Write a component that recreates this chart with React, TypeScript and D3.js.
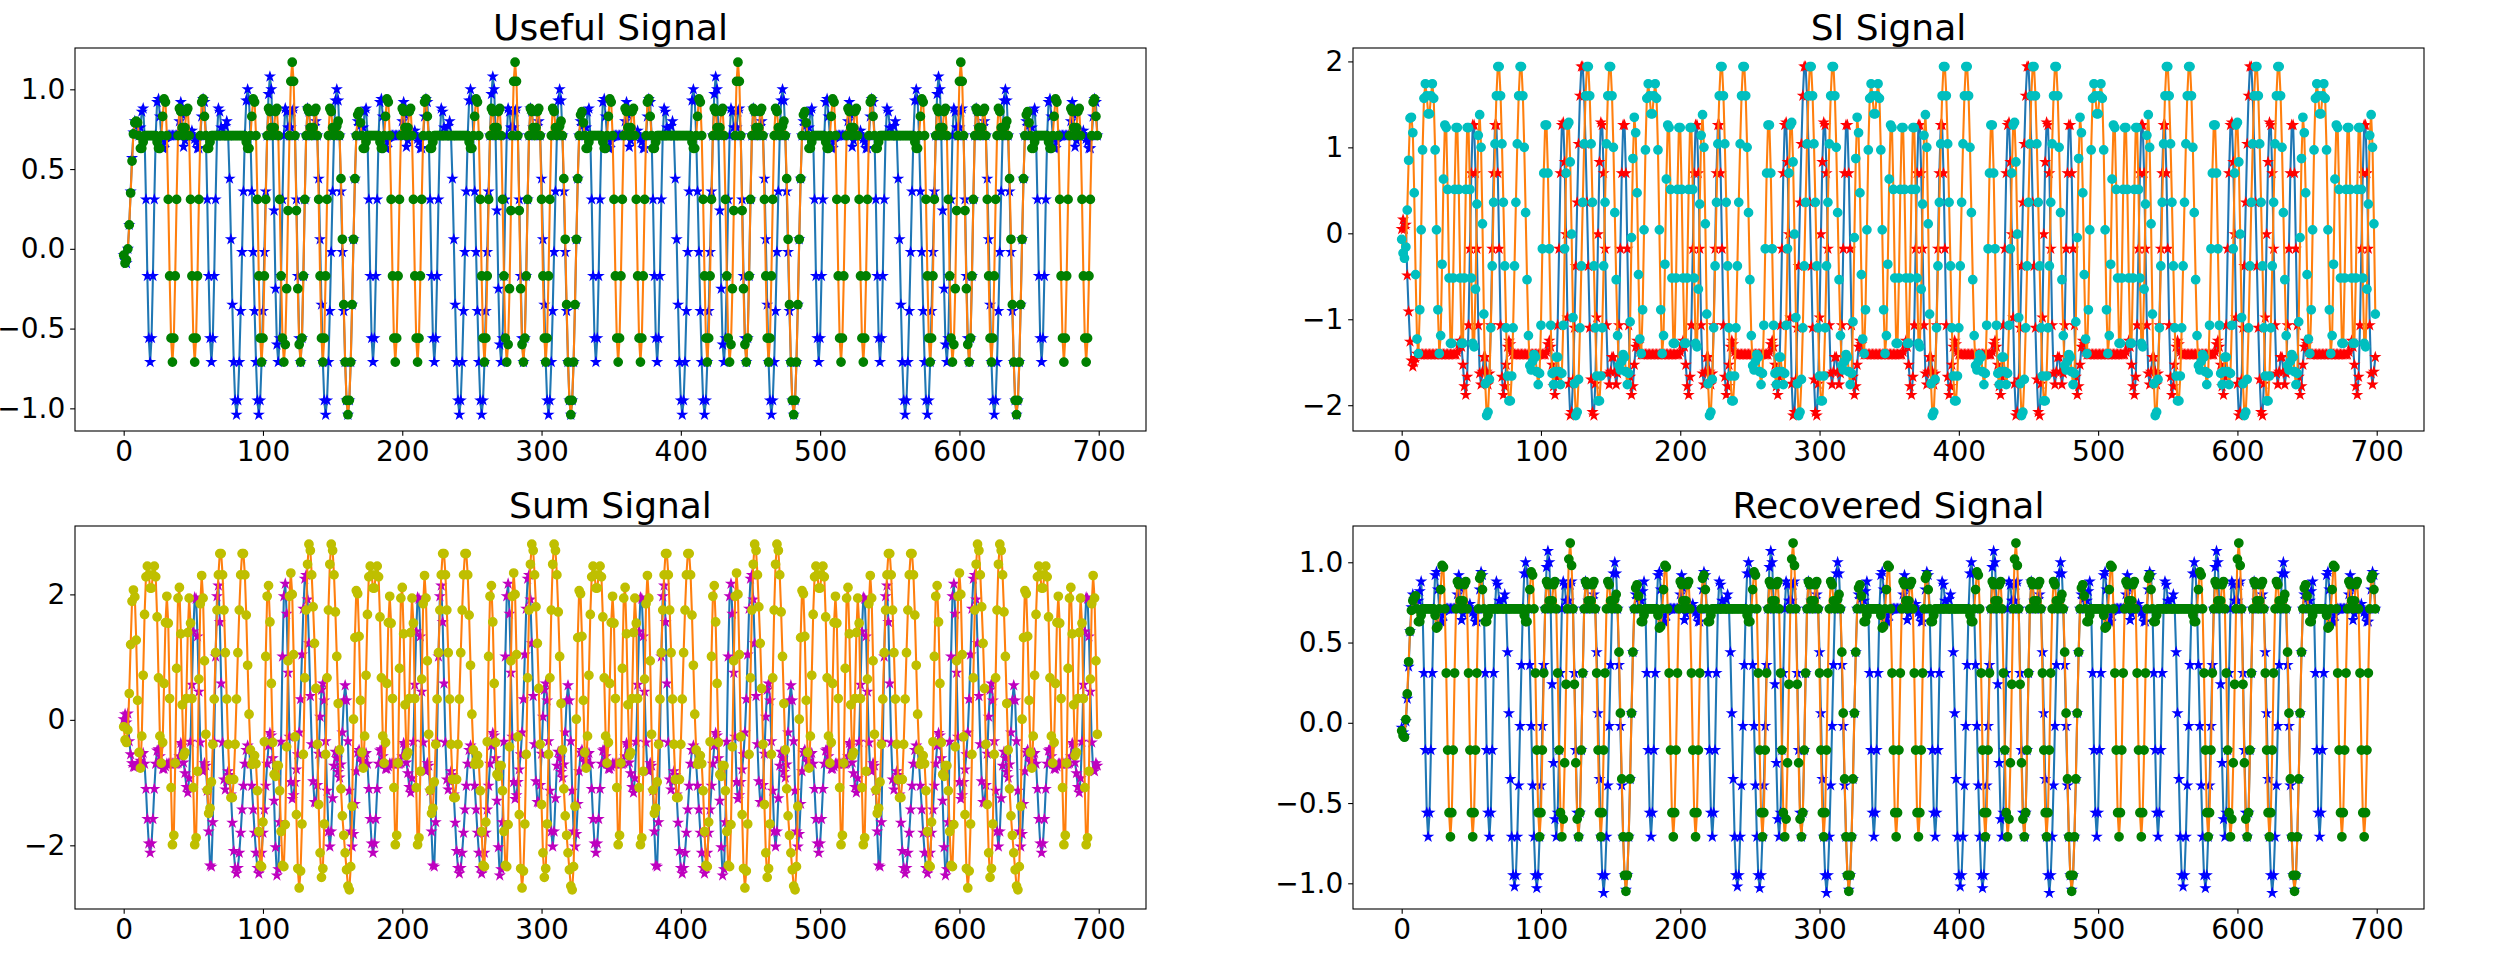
import * as d3 from 'd3';
import { useEffect, useRef } from 'react';

const WIDTH = 2493;
const HEIGHT = 957;
const PANEL_W = 1071;
const PANEL_H = 383;

const SAMPLES = 700;
// every trace repeats with a period of 160 samples once the start-up samples are past
const PERIOD = 160;

const xDomain: [number, number] = [-34.95, 733.95];
const xTicks = [0, 100, 200, 300, 400, 500, 600, 700];

// ---------- Useful signal ----------
const usefulIHead = [-0.04, -0.07, -0.09, 0.0, 0.15, 0.36, 0.57, 0.73, 0.8, 0.77];
const usefulIPeriod = [
  -0.95, -1.04, -0.95, -0.71, -0.35, 0.06, 0.44, 0.71, 0.8, 0.77,
  0.72, 0.71, 0.76, 0.86, 0.88, 0.71, 0.31, -0.17, -0.56, -0.71,
  -0.56, -0.17, 0.31, 0.71, 0.92, 0.94, 0.83, 0.71, 0.63, 0.63,
  0.67, 0.71, 0.71, 0.71, 0.71, 0.71, 0.71, 0.71, 0.71, 0.72,
  0.8, 0.92, 0.84, 0.64, 0.68, 0.71, 0.72, 0.74, 0.72, 0.74,
  0.71, 0.69, 0.67, 0.63, 0.63, 0.71, 0.83, 0.94, 0.92, 0.71,
  0.31, -0.17, -0.56, -0.71, -0.56, -0.17, 0.31, 0.71, 0.88, 0.86,
  0.76, 0.71, 0.72, 0.77, 0.8, 0.71, 0.44, 0.06, -0.35, -0.71,
  -0.95, -1.04, -0.95, -0.71, -0.39, -0.02, 0.36, 0.71, 0.93, 1.0,
  0.93, 0.71, 0.36, -0.02, -0.39, -0.71, -0.95, -1.04, -0.95, -0.71,
  -0.39, -0.02, 0.36, 0.71, 0.97, 1.08, 1.0, 0.71, 0.24, -0.25,
  -0.6, -0.71, -0.56, -0.17, 0.31, 0.71, 0.88, 0.86, 0.76, 0.71,
  0.76, 0.86, 0.88, 0.71, 0.31, -0.17, -0.56, -0.71, -0.56, -0.17,
  0.31, 0.71, 0.88, 0.86, 0.76, 0.71, 0.72, 0.77, 0.8, 0.71,
  0.44, 0.06, -0.35, -0.71, -0.95, -1.04, -0.95, -0.71, -0.39, -0.02,
  0.36, 0.71, 0.93, 1.0, 0.93, 0.71, 0.36, -0.02, -0.39, -0.71,
];
const usefulQHead = [-0.04, -0.09, -0.07, 0.0, 0.15, 0.35, 0.55, 0.72, 0.79, 0.8];
const usefulQPeriod = [
  -0.95, -1.04, -0.95, -0.71, -0.35, 0.06, 0.44, 0.71, 0.84, 0.86,
  0.79, 0.71, 0.63, 0.63, 0.67, 0.71, 0.71, 0.71, 0.71, 0.71,
  0.71, 0.71, 0.71, 0.71, 0.67, 0.63, 0.63, 0.71, 0.83, 0.94,
  0.92, 0.71, 0.31, -0.17, -0.56, -0.71, -0.56, -0.17, 0.31, 0.71,
  0.88, 0.86, 0.76, 0.71, 0.76, 0.86, 0.88, 0.71, 0.31, -0.17,
  -0.56, -0.71, -0.56, -0.17, 0.31, 0.71, 0.92, 0.94, 0.83, 0.71,
  0.63, 0.63, 0.67, 0.71, 0.71, 0.71, 0.71, 0.71, 0.71, 0.71,
  0.71, 0.71, 0.71, 0.71, 0.71, 0.71, 0.71, 0.71, 0.71, 0.71,
  0.71, 0.71, 0.71, 0.71, 0.71, 0.71, 0.71, 0.71, 0.67, 0.63,
  0.63, 0.71, 0.83, 0.94, 0.92, 0.71, 0.31, -0.17, -0.56, -0.71,
  -0.56, -0.17, 0.31, 0.71, 0.88, 0.86, 0.76, 0.71, 0.76, 0.86,
  0.88, 0.71, 0.31, -0.17, -0.56, -0.71, -0.6, -0.25, 0.24, 0.71,
  1.05, 1.17, 1.05, 0.71, 0.24, -0.25, -0.6, -0.71, -0.56, -0.17,
  0.31, 0.71, 0.88, 0.86, 0.76, 0.71, 0.76, 0.86, 0.88, 0.71,
  0.31, -0.17, -0.56, -0.71, -0.56, -0.17, 0.31, 0.71, 0.88, 0.86,
  0.76, 0.71, 0.72, 0.77, 0.8, 0.71, 0.44, 0.06, -0.35, -0.71,
];

// ---------- SI signal ----------
const siIHead = [0.05, 0.16, 0.05, 0.1, -0.49, -0.91, -1.26, -1.48, -1.55, -1.5, -1.45, -1.4];
const siIPeriod = [
  1.26, 0.7, -0.18, -1.07, -1.67, -1.88, -1.78, -1.53, -1.32, -1.25,
  -1.29, -1.38, -1.41, -1.41, -1.41, -1.41, -1.41, -1.41, -1.41, -1.41,
  -1.41, -1.41, -1.41, -1.41, -1.41, -1.41, -1.41, -1.41, -1.41, -1.41,
  -1.41, -1.41, -1.41, -1.41, -1.41, -1.41, -1.41, -1.41, -1.41, -1.41,
  -1.38, -1.29, -1.25, -1.32, -1.53, -1.78, -1.88, -1.67, -1.07, -0.18,
  0.7, 1.26, 1.26, 0.7, -0.18, -1.07, -1.63, -1.76, -1.61, -1.44,
  -1.44, -1.61, -1.76, -1.63, -1.07, -0.18, 0.7, 1.26, 1.26, 0.7,
  -0.18, -1.07, -1.67, -1.88, -1.78, -1.53, -1.32, -1.25, -1.29, -1.38,
  -1.41, -1.41, -1.41, -1.41, -1.41, -1.41, -1.41, -1.41, -1.41, -1.41,
  -1.41, -1.41, -1.41, -1.41, -1.41, -1.41, -1.41, -1.41, -1.41, -1.41,
  -1.41, -1.41, -1.41, -1.41, -1.38, -1.29, -1.25, -1.32, -1.53, -1.78,
  -1.88, -1.67, -1.07, -0.18, 0.7, 1.26, 1.29, 0.83, -0.01, -0.98,
  -1.75, -2.12, -2.08, -1.7, -1.1, -0.38, 0.36, 1.04, 1.6, 1.94,
  1.94, 1.6, 1.04, 0.36, -0.38, -1.1, -1.7, -2.08, -2.12, -1.75,
  -0.98, -0.01, 0.83, 1.29, 1.26, 0.7, -0.18, -1.07, -1.63, -1.76,
  -1.61, -1.44, -1.44, -1.61, -1.76, -1.63, -1.07, -0.18, 0.7, 1.26,
];
const siQHead = [-0.07, -0.23, -0.29, -0.16, 0.27, 0.85, 1.34];
const siQPeriod = [
  -1.44, -1.61, -1.76, -1.63, -1.03, -0.05, 0.87, 1.35, 1.17, 0.47,
  -0.48, -1.23, -1.4, -0.89, 0.04, 0.97, 1.57, 1.74, 1.6, 1.39,
  1.39, 1.6, 1.74, 1.57, 0.97, 0.04, -0.89, -1.4, -1.19, -0.36,
  0.63, 1.26, 1.23, 0.51, -0.52, -1.28, -1.28, -0.52, 0.51, 1.23,
  1.23, 0.51, -0.52, -1.28, -1.28, -0.52, 0.51, 1.23, 1.23, 0.51,
  -0.52, -1.28, -1.32, -0.65, 0.34, 1.14, 1.38, 1.0, 0.11, -0.94,
  -1.75, -2.12, -2.08, -1.7, -1.1, -0.38, 0.36, 1.04, 1.6, 1.94,
  1.94, 1.6, 1.04, 0.36, -0.38, -1.1, -1.66, -1.95, -1.95, -1.66,
  -1.1, -0.38, 0.36, 1.04, 1.6, 1.94, 1.94, 1.6, 1.0, 0.24,
  -0.54, -1.19, -1.54, -1.59, -1.49, -1.41, -1.44, -1.61, -1.76, -1.63,
  -1.07, -0.18, 0.7, 1.26, 1.26, 0.7, -0.18, -1.07, -1.63, -1.76,
  -1.61, -1.44, -1.44, -1.61, -1.76, -1.63, -1.07, -0.18, 0.7, 1.26,
  1.29, 0.83, -0.01, -0.98, -1.75, -2.12, -2.08, -1.7, -1.1, -0.38,
  0.36, 1.04, 1.6, 1.94, 1.94, 1.6, 1.04, 0.36, -0.38, -1.1,
  -1.66, -1.95, -1.95, -1.66, -1.1, -0.38, 0.36, 1.04, 1.6, 1.94,
  1.94, 1.6, 1.0, 0.24, -0.54, -1.19, -1.54, -1.59, -1.49, -1.41,
];

// ---------- Sum signal ----------
const sumIHead = [0.01, 0.09, -0.04, 0.1, -0.34, -0.55, -0.69, -0.75, -0.75, -0.73, -0.73, -0.69];
const sumIPeriod = [
  0.31, -0.34, -1.13, -1.78, -2.02, -1.82, -1.34, -0.82, -0.52, -0.48,
  -0.57, -0.67, -0.65, -0.55, -0.53, -0.7, -1.1, -1.58, -1.97, -2.12,
  -1.97, -1.58, -1.1, -0.7, -0.49, -0.47, -0.58, -0.7, -0.78, -0.78,
  -0.74, -0.7, -0.7, -0.7, -0.7, -0.7, -0.7, -0.7, -0.7, -0.69,
  -0.58, -0.37, -0.41, -0.68, -0.85, -1.07, -1.16, -0.93, -0.35, 0.56,
  1.41, 1.95, 1.93, 1.33, 0.45, -0.36, -0.8, -0.82, -0.69, -0.73,
  -1.13, -1.78, -2.32, -2.34, -1.63, -0.35, 1.01, 1.97, 2.14, 1.56,
  0.58, -0.36, -0.95, -1.11, -0.98, -0.82, -0.88, -1.19, -1.64, -2.09,
  -2.36, -2.45, -2.36, -2.12, -1.8, -1.43, -1.05, -0.7, -0.48, -0.41,
  -0.48, -0.7, -1.05, -1.43, -1.8, -2.12, -2.36, -2.45, -2.36, -2.12,
  -1.8, -1.43, -1.05, -0.7, -0.41, -0.21, -0.25, -0.61, -1.29, -2.03,
  -2.48, -2.38, -1.63, -0.35, 1.01, 1.97, 2.17, 1.69, 0.75, -0.27,
  -0.99, -1.26, -1.2, -0.99, -0.79, -0.55, -0.2, 0.33, 1.04, 1.77,
  2.25, 2.31, 1.92, 1.22, 0.38, -0.39, -0.98, -1.31, -1.32, -1.04,
  -0.54, 0.05, 0.48, 0.58, 0.31, -0.34, -1.13, -1.78, -2.02, -1.78,
  -1.25, -0.73, -0.51, -0.61, -0.83, -0.92, -0.71, -0.2, 0.31, 0.55,
];
const sumQHead = [-0.11, -0.32, -0.36, -0.16, 0.42, 1.2, 1.89, 2.07, 1.96, 1.27];
const sumQPeriod = [
  -2.39, -2.65, -2.71, -2.34, -1.38, 0.01, 1.31, 2.06, 2.01, 1.33,
  0.31, -0.52, -0.77, -0.26, 0.71, 1.68, 2.28, 2.45, 2.31, 2.1,
  2.1, 2.31, 2.45, 2.28, 1.64, 0.67, -0.26, -0.69, -0.36, 0.58,
  1.55, 1.97, 1.54, 0.34, -1.08, -1.99, -1.84, -0.69, 0.82, 1.94,
  2.11, 1.37, 0.24, -0.57, -0.52, 0.34, 1.39, 1.94, 1.54, 0.34,
  -1.08, -1.99, -1.88, -0.82, 0.65, 1.85, 2.3, 1.94, 0.94, -0.23,
  -1.12, -1.49, -1.41, -0.99, -0.39, 0.33, 1.07, 1.75, 2.31, 2.65,
  2.65, 2.31, 1.75, 1.07, 0.33, -0.39, -0.95, -1.24, -1.24, -0.95,
  -0.39, 0.33, 1.07, 1.75, 2.31, 2.65, 2.65, 2.31, 1.67, 0.87,
  0.09, -0.48, -0.71, -0.65, -0.57, -0.7, -1.13, -1.78, -2.32, -2.34,
  -1.63, -0.35, 1.01, 1.97, 2.14, 1.56, 0.58, -0.36, -0.87, -0.9,
  -0.73, -0.73, -1.13, -1.78, -2.32, -2.34, -1.67, -0.43, 0.94, 1.97,
  2.34, 2.0, 1.04, -0.27, -1.51, -2.37, -2.68, -2.41, -1.66, -0.55,
  0.67, 1.75, 2.48, 2.8, 2.7, 2.31, 1.8, 1.22, 0.5, -0.39,
  -1.35, -2.12, -2.51, -2.37, -1.66, -0.55, 0.67, 1.75, 2.48, 2.8,
  2.7, 2.31, 1.72, 1.01, 0.26, -0.48, -1.1, -1.53, -1.84, -2.12,
];

// ---------- Recovered signal ----------
const recoveredIHead = [-0.03, -0.06, -0.08, 0.01, 0.15, 0.35, 0.57, 0.72, 0.8, 0.77];
const recoveredIPeriod = [
  -0.95, -1.04, -0.95, -0.71, -0.35, 0.06, 0.44, 0.71, 0.8, 0.77,
  0.72, 0.71, 0.76, 0.82, 0.88, 0.71, 0.31, -0.17, -0.56, -0.71,
  -0.56, -0.17, 0.31, 0.71, 0.92, 0.94, 0.83, 0.71, 0.63, 0.63,
  0.67, 0.71, 0.71, 0.71, 0.71, 0.71, 0.71, 0.71, 0.71, 0.72,
  0.8, 0.92, 0.84, 0.64, 0.68, 0.71, 0.72, 0.74, 0.72, 0.74,
  0.71, 0.69, 0.67, 0.63, 0.63, 0.71, 0.83, 0.94, 0.92, 0.71,
  0.31, -0.17, -0.56, -0.71, -0.56, -0.17, 0.31, 0.71, 0.88, 0.86,
  0.76, 0.71, 0.72, 0.77, 0.8, 0.71, 0.44, 0.06, -0.35, -0.71,
  -0.95, -1.02, -0.95, -0.71, -0.39, -0.02, 0.36, 0.71, 0.93, 1.0,
  0.93, 0.71, 0.36, -0.02, -0.39, -0.71, -0.95, -1.03, -0.95, -0.71,
  -0.39, -0.02, 0.36, 0.71, 0.97, 1.07, 1.0, 0.71, 0.24, -0.25,
  -0.6, -0.71, -0.56, -0.17, 0.31, 0.71, 0.88, 0.86, 0.76, 0.71,
  0.76, 0.86, 0.88, 0.71, 0.31, -0.17, -0.56, -0.71, -0.56, -0.17,
  0.31, 0.71, 0.88, 0.86, 0.76, 0.71, 0.72, 0.77, 0.8, 0.71,
  0.44, 0.06, -0.35, -0.71, -0.95, -1.06, -0.95, -0.71, -0.39, -0.02,
  0.36, 0.71, 0.93, 1.0, 0.93, 0.71, 0.36, -0.02, -0.39, -0.71,
];
const recoveredQHead = [-0.05, -0.08, -0.09, 0.02, 0.18, 0.38, 0.57, 0.7, 0.76, 0.78];
const recoveredQPeriod = [
  -0.95, -1.05, -0.95, -0.71, -0.35, 0.06, 0.44, 0.71, 0.84, 0.86,
  0.79, 0.71, 0.63, 0.63, 0.67, 0.71, 0.71, 0.71, 0.71, 0.71,
  0.71, 0.71, 0.71, 0.71, 0.67, 0.59, 0.6, 0.71, 0.83, 0.98,
  0.97, 0.71, 0.31, -0.17, -0.56, -0.71, -0.56, -0.17, 0.31, 0.71,
  0.88, 0.86, 0.76, 0.71, 0.76, 0.86, 0.88, 0.71, 0.31, -0.17,
  -0.56, -0.71, -0.56, -0.17, 0.31, 0.71, 0.9, 0.92, 0.83, 0.71,
  0.63, 0.63, 0.67, 0.71, 0.71, 0.71, 0.71, 0.71, 0.71, 0.71,
  0.71, 0.71, 0.71, 0.71, 0.71, 0.71, 0.71, 0.71, 0.71, 0.71,
  0.71, 0.71, 0.71, 0.71, 0.71, 0.71, 0.71, 0.71, 0.67, 0.63,
  0.63, 0.71, 0.83, 0.94, 0.92, 0.71, 0.31, -0.17, -0.56, -0.71,
  -0.56, -0.17, 0.31, 0.71, 0.88, 0.86, 0.76, 0.71, 0.76, 0.86,
  0.88, 0.71, 0.31, -0.17, -0.56, -0.71, -0.6, -0.25, 0.24, 0.71,
  1.02, 1.12, 0.98, 0.71, 0.24, -0.25, -0.6, -0.71, -0.56, -0.17,
  0.31, 0.71, 0.88, 0.86, 0.76, 0.71, 0.76, 0.86, 0.88, 0.71,
  0.31, -0.17, -0.56, -0.71, -0.56, -0.17, 0.31, 0.71, 0.88, 0.86,
  0.76, 0.71, 0.72, 0.77, 0.8, 0.71, 0.44, 0.06, -0.35, -0.71,
];

function buildSignal(head: number[], period: number[]): number[] {
  return d3.range(SAMPLES).map((i) => (i < head.length ? head[i] : period[i % PERIOD]));
}

const FONT = "'DejaVu Sans', 'Liberation Sans', sans-serif";
const C0 = '#1f77b4';
const C1 = '#ff7f0e';
const TICK = 4.86;
// marker size 6pt -> outer radius ~4.17px
const STAR_SIZE = (4.17 * 4.17) / 0.8908130915292852;
const CIRCLE_SIZE = Math.PI * 4.17 * 4.17;

interface Trace {
  values: number[];
  line: string;
  marker: string;
  shape: 'star' | 'circle';
}

interface PanelProps {
  title: string;
  left: number;
  top: number;
  yDomain: [number, number];
  yTicks: number[];
  yFormat: string;
  traces: Trace[];
}

function Panel({ title, left, top, yDomain, yTicks, yFormat, traces }: Readonly<PanelProps>) {
  const gRef = useRef<SVGGElement | null>(null);

  useEffect(() => {
    if (!gRef.current) return;
    const g = d3.select(gRef.current);
    g.selectAll('*').remove();

    const x = d3.scaleLinear().domain(xDomain).range([0, PANEL_W]);
    const y = d3.scaleLinear().domain(yDomain).range([PANEL_H, 0]);
    const line = d3
      .line<number>()
      .x((_, i) => x(i))
      .y((d) => y(d));
    const star = d3.symbol().type(d3.symbolStar).size(STAR_SIZE)() ?? '';
    const circle = d3.symbol().type(d3.symbolCircle).size(CIRCLE_SIZE)() ?? '';

    // line first, then its markers, for each trace in plotting order
    traces.forEach((t) => {
      g.append('path')
        .datum(t.values)
        .attr('d', line)
        .attr('fill', 'none')
        .attr('stroke', t.line)
        .attr('stroke-width', 2.08)
        .attr('stroke-linejoin', 'round');

      g.append('g')
        .selectAll('path')
        .data(t.values)
        .join('path')
        .attr('d', t.shape === 'star' ? star : circle)
        .attr('transform', (d, i) => `translate(${x(i)},${y(d)})`)
        .attr('fill', t.marker)
        .attr('stroke', t.marker)
        .attr('stroke-width', 1.39);
    });

    // spines
    g.append('rect')
      .attr('width', PANEL_W)
      .attr('height', PANEL_H)
      .attr('fill', 'none')
      .attr('stroke', 'black')
      .attr('stroke-width', 1.1);

    const xAxis = g
      .append('g')
      .attr('transform', `translate(0,${PANEL_H})`)
      .call(
        d3
          .axisBottom(x)
          .tickValues(xTicks)
          .tickFormat(d3.format('d'))
          .tickSize(TICK)
          .tickPadding(TICK)
          .tickSizeOuter(0),
      );
    const yAxis = g.append('g').call(
      d3
        .axisLeft(y)
        .tickValues(yTicks)
        .tickFormat(d3.format(yFormat))
        .tickSize(TICK)
        .tickPadding(TICK)
        .tickSizeOuter(0),
    );
    [xAxis, yAxis].forEach((axis) => {
      axis.select('.domain').remove();
      axis.attr('font-size', 28).attr('font-family', FONT);
      axis.selectAll('line').attr('stroke', 'black').attr('stroke-width', 1.1);
      axis.selectAll('text').attr('fill', 'black');
    });

    g.append('text')
      .attr('x', PANEL_W / 2)
      .attr('y', -8.3)
      .attr('text-anchor', 'middle')
      .attr('font-size', 36)
      .attr('font-family', FONT)
      .attr('fill', 'black')
      .text(title);
  }, []);

  return <g ref={gRef} transform={`translate(${left},${top})`} />;
}

export default function App() {
  const useful: Trace[] = [
    { values: buildSignal(usefulIHead, usefulIPeriod), line: C0, marker: '#0000ff', shape: 'star' },
    { values: buildSignal(usefulQHead, usefulQPeriod), line: C1, marker: '#008000', shape: 'circle' },
  ];
  const si: Trace[] = [
    { values: buildSignal(siIHead, siIPeriod), line: C0, marker: '#ff0000', shape: 'star' },
    { values: buildSignal(siQHead, siQPeriod), line: C1, marker: '#00bfbf', shape: 'circle' },
  ];
  const sum: Trace[] = [
    { values: buildSignal(sumIHead, sumIPeriod), line: C0, marker: '#bf00bf', shape: 'star' },
    { values: buildSignal(sumQHead, sumQPeriod), line: C1, marker: '#bfbf00', shape: 'circle' },
  ];
  const recovered: Trace[] = [
    { values: buildSignal(recoveredIHead, recoveredIPeriod), line: C0, marker: '#0000ff', shape: 'star' },
    { values: buildSignal(recoveredQHead, recoveredQPeriod), line: C1, marker: '#008000', shape: 'circle' },
  ];

  return (
    <div style={{ position: 'absolute', left: 0, top: 0 }}>
      <svg width={WIDTH} height={HEIGHT} style={{ display: 'block', background: 'white' }}>
        <Panel
          title="Useful Signal"
          left={75}
          top={48}
          yDomain={[-1.142, 1.259]}
          yTicks={[-1, -0.5, 0, 0.5, 1]}
          yFormat=".1f"
          traces={useful}
        />
        <Panel
          title="SI Signal"
          left={1353}
          top={48}
          yDomain={[-2.3, 2.156]}
          yTicks={[-2, -1, 0, 1, 2]}
          yFormat="d"
          traces={si}
        />
        <Panel
          title="Sum Signal"
          left={75}
          top={526}
          yDomain={[-3.015, 3.09]}
          yTicks={[-2, 0, 2]}
          yFormat="d"
          traces={sum}
        />
        <Panel
          title="Recovered Signal"
          left={1353}
          top={526}
          yDomain={[-1.16, 1.226]}
          yTicks={[-1, -0.5, 0, 0.5, 1]}
          yFormat=".1f"
          traces={recovered}
        />
      </svg>
    </div>
  );
}
